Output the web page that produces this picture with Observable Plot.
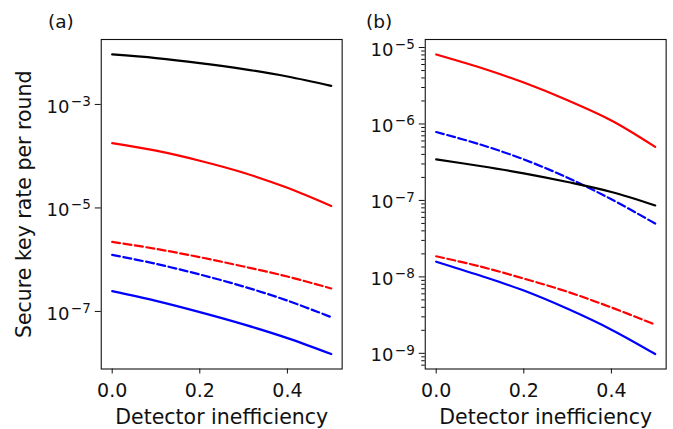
<!DOCTYPE html>
<html>
<head>
<meta charset="utf-8">
<script src="https://cdn.jsdelivr.net/npm/d3@7"></script>
<script src="https://cdn.jsdelivr.net/npm/@observablehq/plot@0.6"></script>
<style>
  html, body { margin: 0; padding: 0; background: white; }
  #chart { position: relative; width: 673px; height: 429px; overflow: hidden; }
  #chart svg { position: absolute; top: 0; }
</style>
</head>
<body>
<div id="chart"></div>
<script>
// ---- data ----
const detectorInefficiency = [0, 0.1, 0.2, 0.3, 0.4, 0.5];

// panel (a)
const aBlackSolid = [9.25e-3, 7.87e-3, 6.31e-3, 4.83e-3, 3.47e-3, 2.29e-3];
const aRedSolid   = [1.79e-4, 1.28e-4, 8.18e-5, 4.79e-5, 2.45e-5, 1.09e-5];
const aRedDashed  = [2.21e-6, 1.62e-6, 1.12e-6, 7.38e-7, 4.73e-7, 2.78e-7];
const aBlueDashed = [1.24e-6, 8.32e-7, 5.18e-7, 3.03e-7, 1.62e-7, 7.76e-8];
const aBlueSolid  = [2.47e-7, 1.60e-7, 9.70e-8, 5.62e-8, 3.05e-8, 1.50e-8];

// panel (b)
const bRedSolid   = [8.11e-6, 5.47e-6, 3.48e-6, 2.04e-6, 1.11e-6, 5.01e-7];
const bBlueDashed = [7.85e-7, 5.40e-7, 3.44e-7, 1.98e-7, 1.035e-7, 4.99e-8];
const bBlackSolid = [3.44e-7, 2.82e-7, 2.26e-7, 1.74e-7, 1.29e-7, 8.59e-8];
const bRedDashed  = [1.86e-8, 1.37e-8, 9.50e-9, 6.38e-9, 3.98e-9, 2.37e-9];
const bBlueSolid  = [1.58e-8, 1.04e-8, 6.62e-9, 3.82e-9, 2.04e-9, 9.79e-10];

// ticks and labels
const xTicks = [0, 0.2, 0.4];
const yTicksA = [1e-3, 1e-5, 1e-7];
const yTicksB = [1e-5, 1e-6, 1e-7, 1e-8, 1e-9];
const xLabel = "Detector inefficiency";
const yLabel = "Secure key rate per round";
const panelLabels = ["(a)", "(b)"];

// ---- styles ----
const RED = "#ff0000", BLUE = "#0000ff", BLACK = "#000000";
const DASH = "8,3.5";
const seriesA = [
  {values: aBlackSolid, color: BLACK, dash: null},
  {values: aRedSolid, color: RED, dash: null},
  {values: aRedDashed, color: RED, dash: DASH},
  {values: aBlueDashed, color: BLUE, dash: DASH},
  {values: aBlueSolid, color: BLUE, dash: null}
];
const seriesB = [
  {values: bRedSolid, color: RED, dash: null},
  {values: bBlueDashed, color: BLUE, dash: DASH},
  {values: bBlackSolid, color: BLACK, dash: null},
  {values: bRedDashed, color: RED, dash: DASH},
  {values: bBlueSolid, color: BLUE, dash: null}
];

function toRows(values) {
  return detectorInefficiency.map((x, i) => ({x, y: values[i]}));
}

function minorTicks(lo, hi) {
  const out = [];
  for (let e = Math.floor(Math.log10(lo)); e <= Math.ceil(Math.log10(hi)); e++) {
    for (let m = 2; m <= 9; m++) {
      const v = m * Math.pow(10, e);
      if (v >= lo && v <= hi) out.push(v);
    }
  }
  return out;
}

const H = 429, TOP = 39, BOTTOM = 60.5;

function panel({width, left, right, yDomain, series, yTicks, minor, label, labelDx, showYLabel}) {
  const marks = [
    Plot.frame({stroke: "#111", strokeWidth: 1.1}),
    ...series.map(s => Plot.line(toRows(s.values), {
      x: "x", y: "y", stroke: s.color, strokeWidth: 2.2,
      strokeDasharray: s.dash || undefined, curve: "catmull-rom"
    })),
    Plot.axisX(xTicks, {tickSize: 5, tickPadding: 9.3, fontSize: 19, tickFormat: d3.format(".1f"), label: null, stroke: "#111"}),
    Plot.axisY(yTicks, {tickSize: 6, tickPadding: 4.5, fontSize: 18,
      tickFormat: d => "10^" + Math.round(Math.log10(d)), label: null, stroke: "#111"}),
    Plot.text([xLabel], {frameAnchor: "bottom", textAnchor: "middle", lineAnchor: "middle", dy: 48.4, fontSize: 20.5, fill: "#111"}),
    Plot.text([label], {frameAnchor: "top-left", textAnchor: "start", lineAnchor: "middle", dx: labelDx, dy: -17.26, fontSize: 18.5, fill: "#111"})
  ];
  if (minor) {
    const [lo, hi] = yDomain;
    marks.push(Plot.axisY(minorTicks(lo, hi), {tickSize: 3.5, tickFormat: () => "", label: null, stroke: "#111"}));
  }
  if (showYLabel) {
    marks.push(Plot.text([yLabel], {frameAnchor: "left", textAnchor: "middle", lineAnchor: "middle", dx: -77.25, rotate: -90, fontSize: 20.5, fill: "#111"}));
  }
  const svg = Plot.plot({
    width, height: H,
    marginLeft: left, marginRight: right, marginTop: TOP, marginBottom: BOTTOM,
    x: {domain: [-0.025, 0.525]},
    y: {type: "log", domain: yDomain},
    style: {fontFamily: "DejaVu Sans", background: "transparent", overflow: "visible", color: "#111"},
    marks
  });
  // render 10^n tick labels with a real superscript
  const ns = "http://www.w3.org/2000/svg";
  svg.querySelectorAll("text").forEach(t => {
    const m = t.textContent.match(/^10\^(-?\d+)$/);
    if (!m) return;
    const exp = m[1].replace("-", "\u2212");
    t.textContent = "";
    t.style.fontSize = "18px";
    const base = document.createElementNS(ns, "tspan");
    base.setAttribute("dy", "2.3");
    base.textContent = "10";
    const sup = document.createElementNS(ns, "tspan");
    sup.setAttribute("dy", "-6.8");
    sup.setAttribute("dx", "1.5");
    sup.style.fontSize = "13.5px";
    sup.textContent = exp;
    t.appendChild(base);
    t.appendChild(sup);
  });
  return svg;
}

const chart = document.getElementById("chart");

const svgA = panel({
  width: 345, left: 100.75, right: 3.35,
  yDomain: [Math.pow(10, -8.112), Math.pow(10, -1.745)],
  series: seriesA, yTicks: yTicksA, minor: false,
  label: panelLabels[0], labelDx: -53.25, showYLabel: true
});
svgA.style.left = "0px";
chart.appendChild(svgA);

const svgB = panel({
  width: 328, left: 79.75, right: 7.35,
  yDomain: [Math.pow(10, -9.205), Math.pow(10, -4.895)],
  series: seriesB, yTicks: yTicksB, minor: true,
  label: panelLabels[1], labelDx: -59.25, showYLabel: false
});
svgB.style.left = "345px";
chart.appendChild(svgB);
</script>
</body>
</html>
